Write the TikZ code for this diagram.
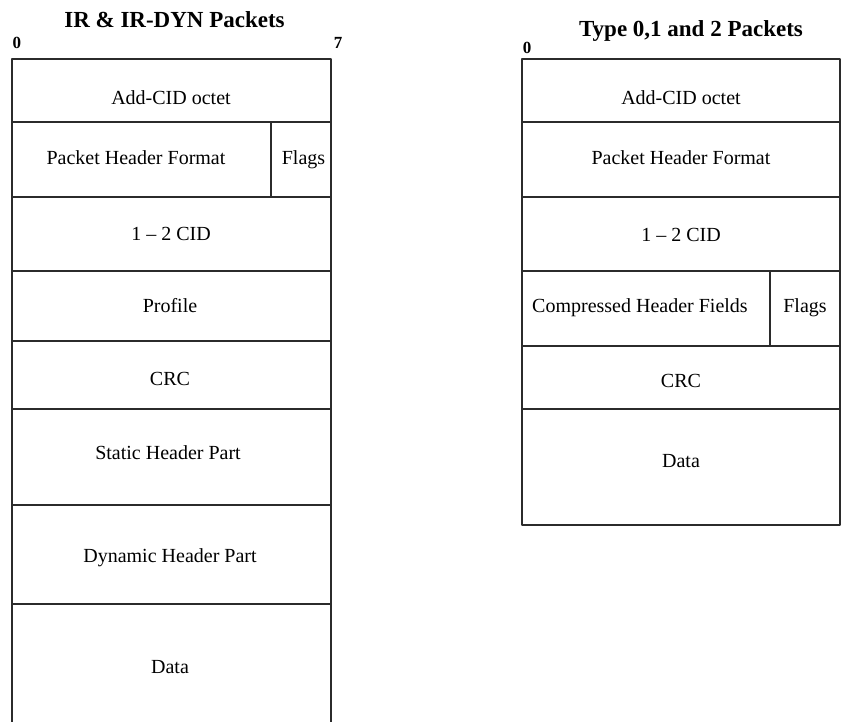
\documentclass[tikz,border=0pt]{standalone}
\usepackage{fontspec}
\setmainfont{Liberation Serif}
\usepackage{tikz}
\usetikzlibrary{positioning}
\definecolor{framegray}{rgb}{0.17,0.17,0.17}
\tikzset{
  cell/.style={draw=framegray,line width=0.75pt},
  lbl/.style={anchor=base,inner sep=0pt,font=\fontsize{10}{12}\selectfont},
  ttl/.style={anchor=base,inner sep=0pt,font=\fontsize{11.5}{14}\selectfont\bfseries},
  bitno/.style={anchor=base,inner sep=0pt,font=\fontsize{8.5}{10}\selectfont\bfseries}
}
\begin{document}
\begin{tikzpicture}[line cap=round,line join=round,x=0.5pt,y=-0.5pt]
\useasboundingbox (0,0) rectangle (847,722);
\clip (0,0) rectangle (847,722);
% IR & IR-DYN packets
\node[ttl] (irtitle) at (174.5,28) {IR \& IR-DYN Packets};
\node[bitno] (irzero) at (17,48.5) {0};
\node[bitno] (irseven) at (338,48.5) {7};
\draw[cell] (12,740) -- (12,59) -- (331,59) -- (331,740);
\foreach \y in {122,197,271,341,409,505,604}
\draw[cell] (12,\y) -- (331,\y);
\draw[cell] (271,122) -- (271,197);
\node[lbl] (iraddcid) at (171,104.5) {Add-CID octet};
\node[lbl] (irformat) at (136,165) {Packet Header Format};
\node[lbl] (irflags) at (303.5,165) {Flags};
\node[lbl] (ircid) at (171,240.5) {1 -- 2 CID};
\node[lbl] (irprofile) at (170,312.5) {Profile};
\node[lbl] (ircrc) at (170,385.5) {CRC};
\node[lbl] (irstatic) at (168,459.5) {Static Header Part};
\node[lbl] (irdynamic) at (170,562.5) {Dynamic Header Part};
\node[lbl] (irdata) at (170,673) {Data};
% Type 0,1 and 2 packets
\node[ttl] (tytitle) at (691,37) {Type 0,1 and 2 Packets};
\node[bitno] (tyzero) at (527,53.5) {0};
\node[bitno] (tyseven) at (851,53.5) {7};
\draw[cell] (522,59) rectangle (840,525);
\foreach \y in {122,197,271,346,409}
\draw[cell] (522,\y) -- (840,\y);
\draw[cell] (770,271) -- (770,346);
\node[lbl] (tyaddcid) at (681,104.5) {Add-CID octet};
\node[lbl] (tyformat) at (681,165) {Packet Header Format};
\node[lbl] (tycid) at (681,241.5) {1 -- 2 CID};
\node[lbl] (tyfields) at (640,313) {Compressed Header Fields};
\node[lbl] (tyflags) at (805,313) {Flags};
\node[lbl] (tycrc) at (681,387.5) {CRC};
\node[lbl] (tydata) at (681,467.5) {Data};
\end{tikzpicture}
\end{document}
